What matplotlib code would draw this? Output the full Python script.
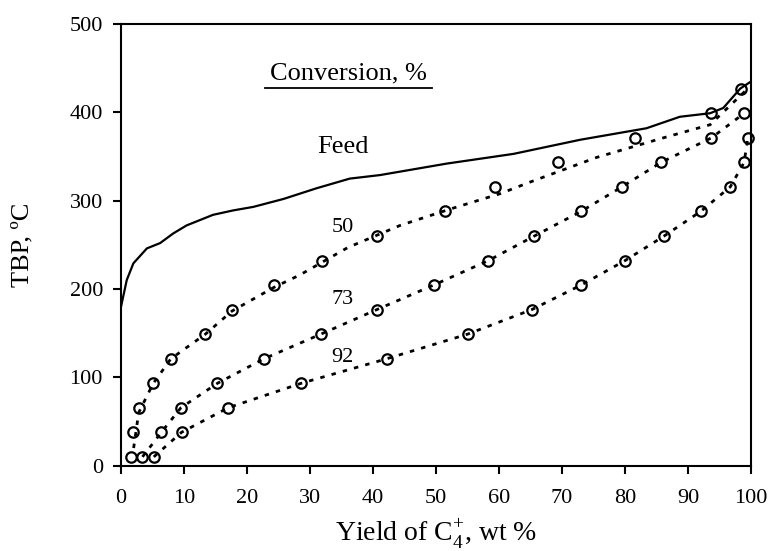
import matplotlib
matplotlib.use("Agg")
from matplotlib import pyplot as plt

# TBP cut temperatures (50 F steps, in C)
cut_temps = [10.0, 37.8, 65.6, 93.3, 121.1, 148.9, 176.7, 204.4,
             232.2, 260.0, 287.8, 315.6, 343.3, 371.1, 398.9, 426.7]

# feed distillation curve
feed_yield = [0, 0.9, 1.95, 4.1, 6.2, 8.3, 10.4, 14.6, 17.8, 21, 25.8, 31,
              36.3, 41.1, 51.7, 62.3, 72.9, 83.4, 88.7, 93.5, 95.6, 98.3, 99.8]
feed_tbp = [180, 210, 229, 246, 252, 263, 272, 284, 289, 293, 302, 314,
            325, 329, 342, 353, 369, 382, 395, 399, 405, 427, 434]

# product yields at each cut temperature, per conversion level
yield_50 = [1.6, 1.9, 2.8, 5.1, 7.9, 13.4, 17.6, 24.3, 31.9, 40.6, 51.4,
            59.4, 69.3, 81.6, 93.7, 98.4]
yield_73 = [3.4, 6.4, 9.5, 15.3, 22.7, 31.7, 40.6, 49.6, 58.3, 65.6, 73.0,
            79.5, 85.7, 93.7, 98.9]
yield_92 = [5.2, 9.6, 17.0, 28.6, 42.2, 55.0, 65.2, 73.0, 80.0, 86.2, 92.0,
            96.7, 98.9, 99.5]

# fitted trend for the 50 % conversion run
fit50_yield = [2.0, 2.8, 5.1, 7.9, 13.4, 17.6, 24.3, 28.4, 36.0, 44.3, 52.0,
               60.2, 64.9, 75.5, 86.0, 93.5, 99.8]
fit50_tbp = [20, 60, 93, 121, 149, 175, 202, 216, 247, 272, 290,
             308, 321, 349, 371, 386, 429]

plt.rcParams["font.family"] = ["Liberation Serif", "DejaVu Serif"]
plt.rcParams["mathtext.fontset"] = "custom"
plt.rcParams["mathtext.rm"] = "Liberation Serif"

fig = plt.figure(figsize=(7.68, 5.51), dpi=100)
ax = fig.add_axes([0.1576, 0.1548, 0.8203, 0.8016])

dot = (0, (1.6, 2.6))
ax.plot(feed_yield, feed_tbp, color="black", lw=1.6)
ax.plot(fit50_yield, fit50_tbp, color="black", lw=2, linestyle=dot)
ax.plot(yield_73, cut_temps[:len(yield_73)], color="black", lw=2, linestyle=dot)
ax.plot(yield_92, cut_temps[:len(yield_92)], color="black", lw=2, linestyle=dot)

for xs in (yield_50, yield_73, yield_92):
    ax.plot(xs, cut_temps[:len(xs)], linestyle="none", marker="o", ms=7.5,
            mfc="none", mec="black", mew=1.6, clip_on=False)

ax.text(36.1, 444, "Conversion, %", fontsize=19, ha="center", va="center")
ax.plot([22.9, 49.4], [427.6, 427.6], color="black", lw=1.3)
ax.text(35.2, 361, "Feed", fontsize=19, ha="center", va="center")
ax.text(35.2, 270, "50", fontsize=16, ha="center", va="center")
ax.text(35.2, 188, "73", fontsize=16, ha="center", va="center")
ax.text(35.2, 123, "92", fontsize=16, ha="center", va="center")

ax.set_xlim(0, 100)
ax.set_ylim(0, 500)
ax.set_xticks(range(0, 101, 10))
ax.set_yticks(range(0, 501, 100))
ax.tick_params(direction="out", length=6, width=1.5, labelsize=16,
               top=False, right=False)
ax.tick_params(axis="x", pad=11)
ax.tick_params(axis="y", pad=7)
for sp in ax.spines.values():
    sp.set_linewidth(1.5)

ax.set_xlabel(r"Yield of C$_\mathregular{4}^\mathregular{+}$, wt %", fontsize=20,
              va="center")
ax.set_ylabel("TBP, ºC", fontsize=19, va="center")
ax.xaxis.set_label_coords(0.5, -0.155)
ax.yaxis.set_label_coords(-0.157, 0.5)

plt.savefig("out.png", dpi=100)
plt.close()
